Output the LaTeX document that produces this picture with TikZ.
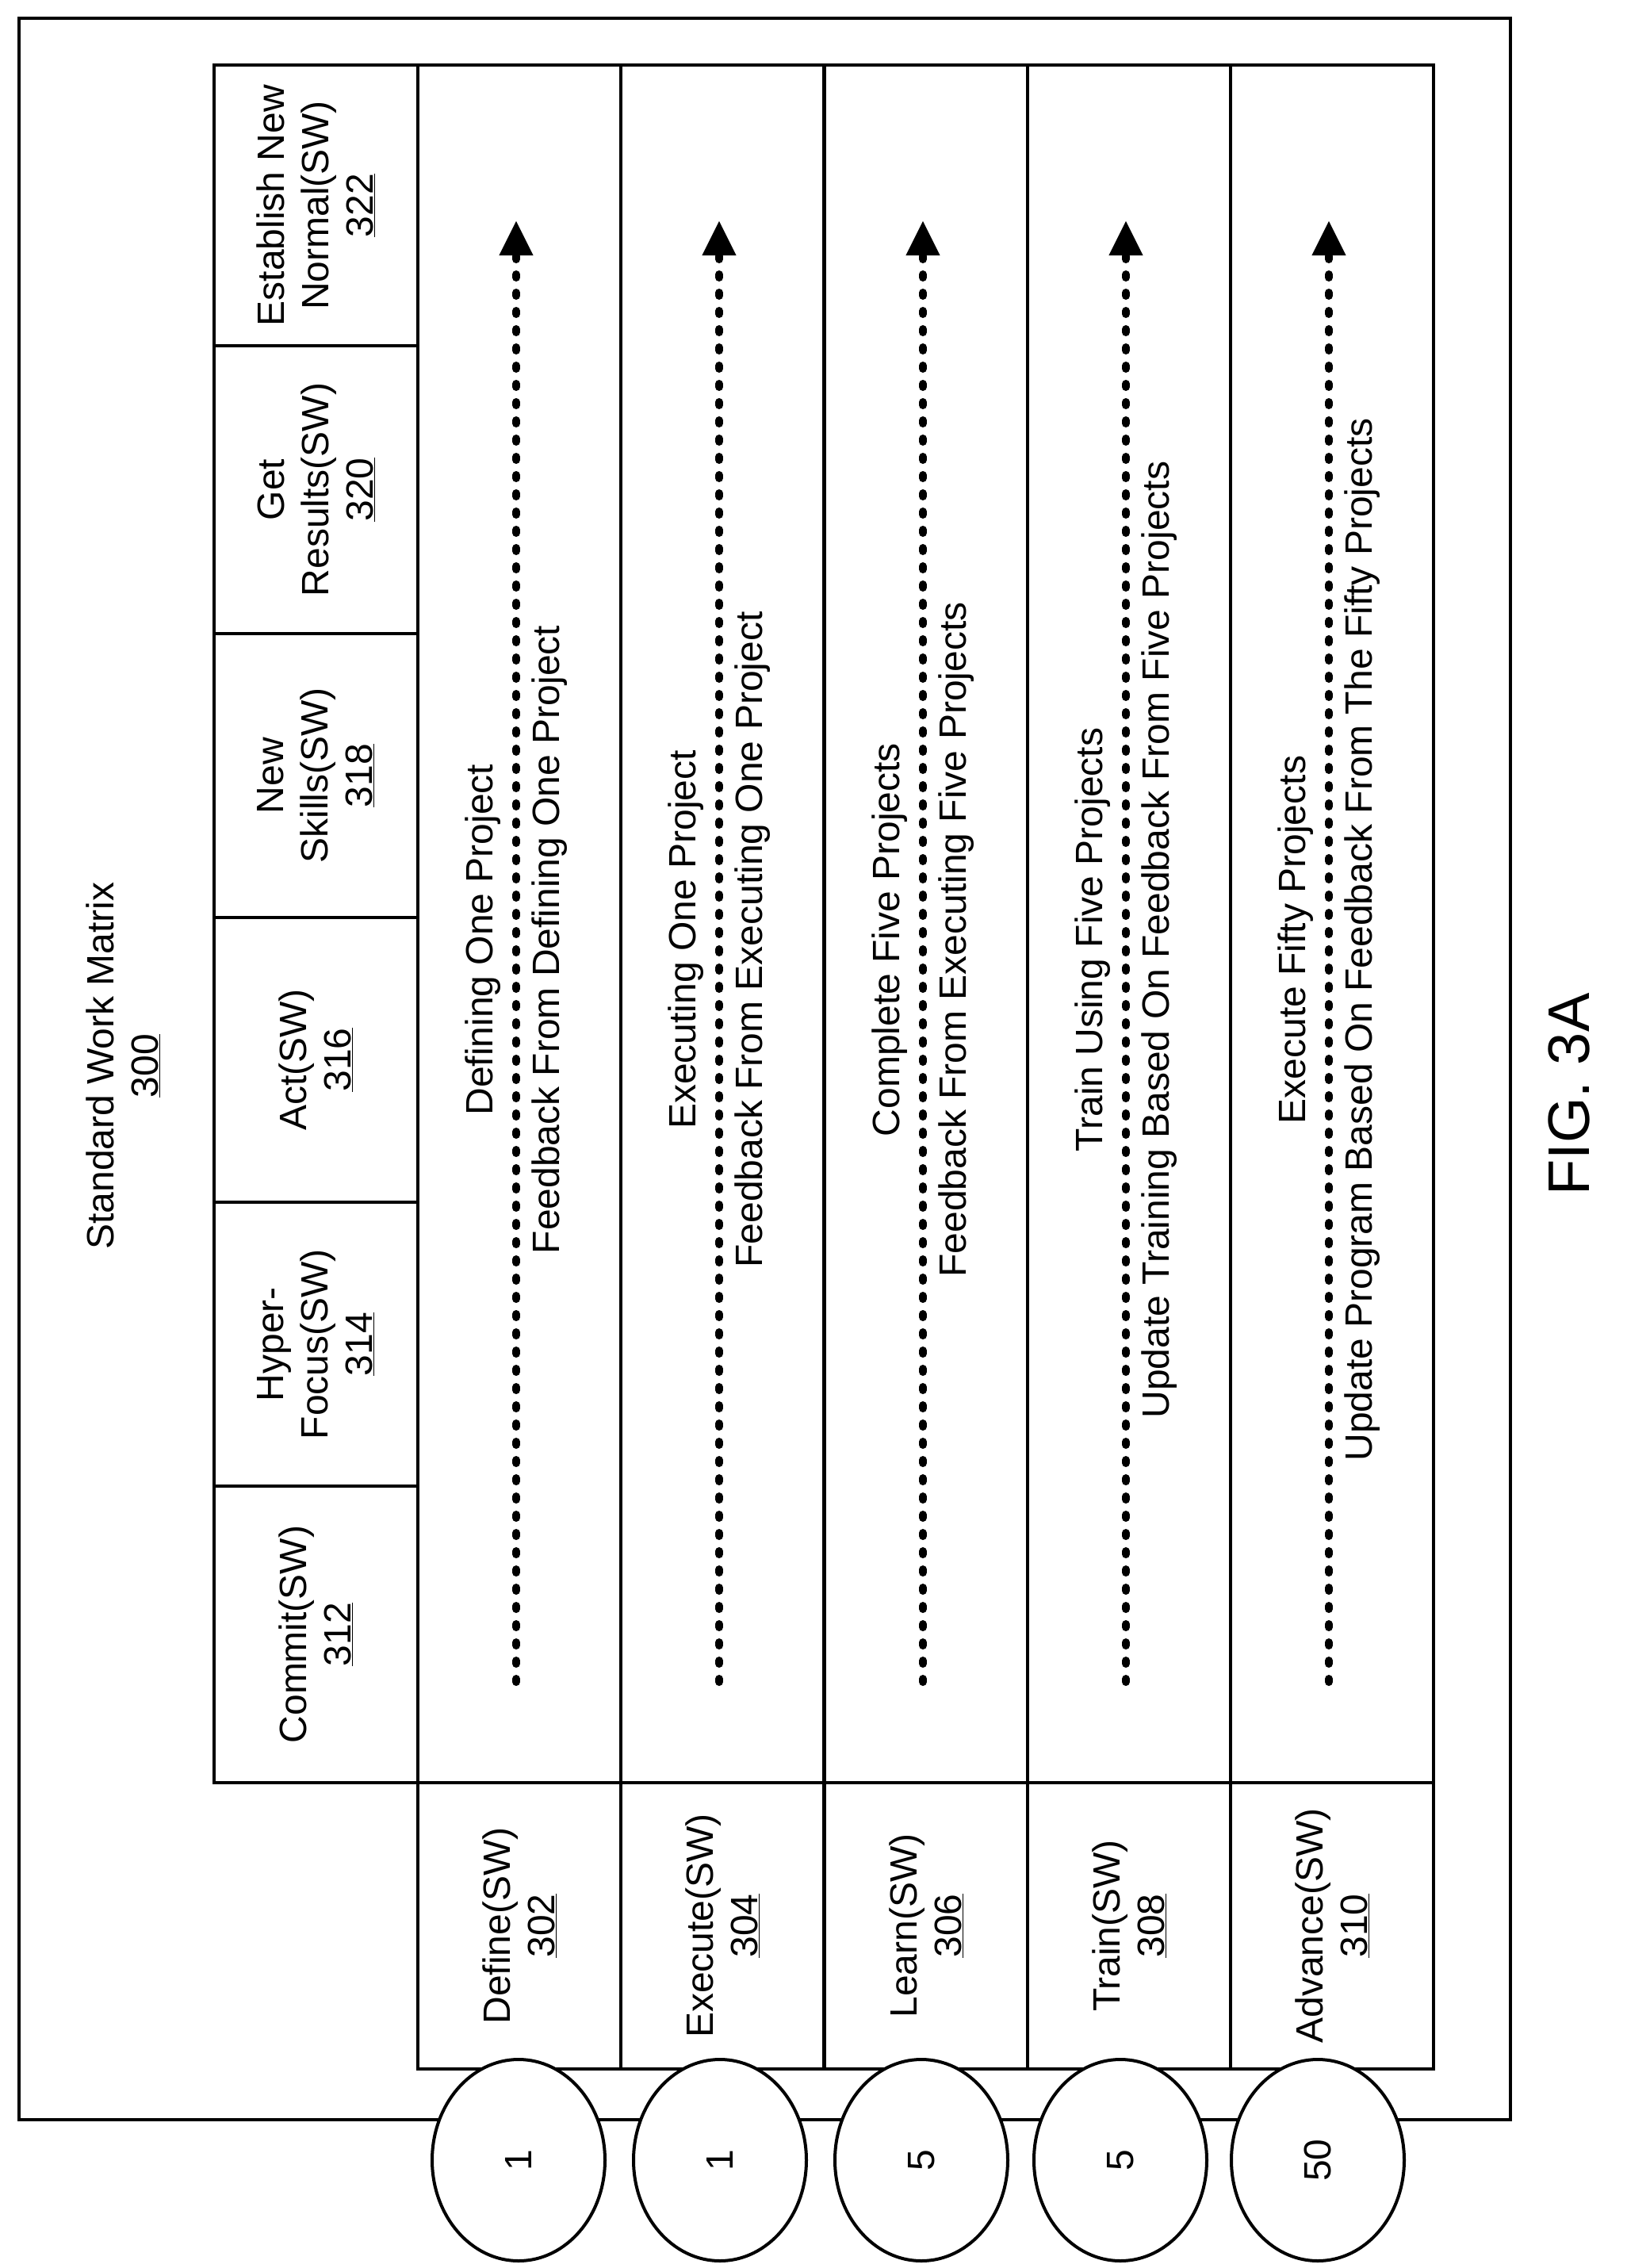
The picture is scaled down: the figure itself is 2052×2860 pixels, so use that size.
\documentclass[tikz,border=0pt]{standalone}
\usepackage{fontspec}
\setmainfont{Liberation Sans}
\usetikzlibrary{shapes.geometric,arrows.meta}
\begin{document}
\begin{tikzpicture}[x=1pt,y=1pt,
  txt/.style={rotate=90,font=\fontsize{48}{56}\selectfont,align=center,inner sep=0},
  cell/.style={draw,line width=4pt,inner sep=0},
  circ/.style={ellipse,draw,line width=4pt,fill=white,rotate=90,minimum width=254,minimum height=218,font=\fontsize{48}{56}\selectfont,inner sep=0},
  darrow/.style={line width=10pt,line cap=round,dash pattern=on 4pt off 19pt,-{Triangle[length=44pt,width=40pt,line cap=butt]}}]
\useasboundingbox (0,0) rectangle (2052,-2860);
\fill[white] (0,0) rectangle (2052,-2860);
\node[cell,minimum width=1881,minimum height=2650] (outer) at (964,-1348) {};
\node[txt] (title) at (155,-1344) {Standard Work Matrix\\\underline{300}};
% header cells
\foreach \n/\cy/\h/\t in {h1/259/354/{Establish New\\Normal(SW)\\\underline{322}},
  h2/617.5/363/{Get\\Results(SW)\\\underline{320}},
  h3/978/358/{New\\Skills(SW)\\\underline{318}},
  h4/1336.5/359/{Act(SW)\\\underline{316}},
  h5/1695/358/{Hyper-\\Focus(SW)\\\underline{314}},
  h6/2061/374/{Commit(SW)\\\underline{312}}}{
  \node[cell,minimum width=257,minimum height=\h] (\n) at (398.5,-\cy) {};
  \node[txt] at (\n) {\t};
}
% rows
\foreach \i/\cx/\la/\lb/\lab/\num/\cxc in {
  1/655/{Defining One Project}/{Feedback From Defining One Project}/{Define(SW)\\\underline{302}}/1/654,
  2/911/{Executing One Project}/{Feedback From Executing One Project}/{Execute(SW)\\\underline{304}}/1/908,
  3/1168/{Complete Five Projects}/{Feedback From Executing Five Projects}/{Learn(SW)\\\underline{306}}/5/1162,
  4/1424/{Train Using Five Projects}/{Update Training Based On Feedback From Five Projects}/{Train(SW)\\\underline{308}}/5/1413,
  5/1680/{Execute Fifty Projects}/{Update Program Based On Feedback From The Fifty Projects}/{Advance(SW)\\\underline{310}}/50/1662}{
  \node[cell,minimum width=256.2,minimum height=2166] (r\i) at (\cx,-1165) {};
  \node[cell,minimum width=256.2,minimum height=361] (l\i) at (\cx,-2428.5) {};
  \node[txt] (la\i) at (\cx-46,-1185) {\la};
  \node[txt] (lb\i) at (\cx+38,-1185) {\lb};
  \node[txt] (lab\i) at (l\i) {\lab};
  \coordinate (s\i) at (\cx-4,-2121);
  \coordinate (e\i) at (\cx-4,-278);
  \draw[darrow] (s\i) -- (e\i);
  \node[circ] (c\i) at (\cxc,-2724) {\num};
}
\node[rotate=90,font=\fontsize{74}{84}\selectfont,inner sep=0] (fig) at (1979,-1380) {FIG. 3A};
\end{tikzpicture}
\end{document}
